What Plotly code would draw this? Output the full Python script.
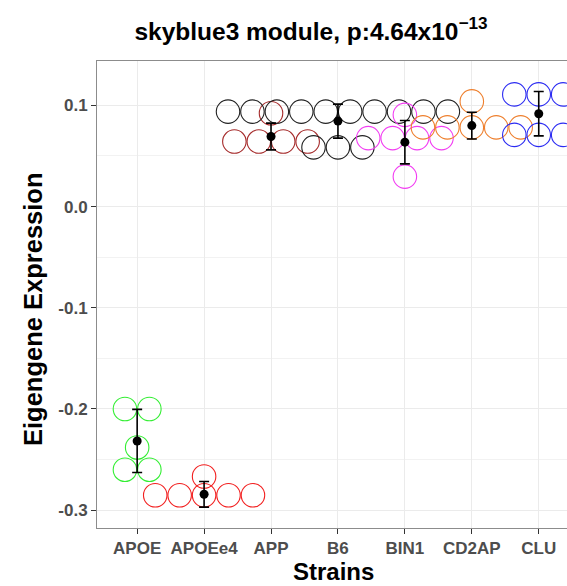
import plotly.graph_objects as go

# ---- data ----
strains = ["APOE", "APOEe4", "APP", "B6", "BIN1", "CD2AP", "CLU"]
colors = ["#33EE33", "#F21F1F", "#A52A2A", "#222222", "#F23CF2", "#EE7F2D", "#2B2BF2"]

apoe = [-0.200, -0.200, -0.238, -0.260, -0.260]
apoee4 = [-0.2852, -0.2852, -0.2852, -0.2852, -0.2852, -0.2667]
app = [0.0922, 0.0642, 0.0642, 0.0642, 0.0642]
b6 = [0.0938] * 10 + [0.0585] * 3
bin1 = [0.0906, 0.0676, 0.0676, 0.0676, 0.0676, 0.0296]
cd2ap = [0.1039, 0.0782, 0.0782, 0.0782, 0.0782, 0.0782]
clu = [0.1108, 0.1108, 0.1108, 0.0708, 0.0708, 0.0708]
values = [apoe, apoee4, app, b6, bin1, cd2ap, clu]

means = [-0.2316, -0.2843, 0.0692, 0.0844, 0.0636, 0.0800, 0.0917]
sds = [0.0312, 0.0127, 0.0132, 0.0168, 0.0214, 0.0132, 0.0219]

y_ticks = [-0.3, -0.2, -0.1, 0.0, 0.1]
y_tick_text = ["-0.3", "-0.2", "-0.1", "0.0", "0.1"]
y_minor = [-0.25, -0.15, -0.05, 0.05]

SPACING = 0.365  # beeswarm row spacing (data units, one marker width)
FONT = "Liberation Sans, Arial, sans-serif"

fig = go.Figure()

# beeswarm-like centered rows: equal values share a row
for i, (name, vals, col) in enumerate(zip(strains, values, colors)):
    pos = i + 1
    xs, ys = [], []
    rows = {}
    for v in vals:
        rows.setdefault(v, []).append(v)
    for v, row in rows.items():
        n = len(row)
        for k in range(n):
            xs.append(pos + (k - (n - 1) / 2) * SPACING)
            ys.append(v)
    fig.add_trace(go.Scatter(
        x=xs, y=ys, mode="markers",
        marker=dict(symbol="circle-open", size=23.5, color=col,
                    line=dict(width=1.1, color=col)),
        hoverinfo="skip", showlegend=False))

# mean +/- sd
fig.add_trace(go.Scatter(
    x=list(range(1, len(strains) + 1)), y=means, mode="markers",
    marker=dict(size=9, color="black"),
    error_y=dict(type="data", array=sds, visible=True, color="black",
                 thickness=1.6, width=5),
    showlegend=False))

fig.update_layout(
    width=567, height=586,
    margin=dict(l=97, r=0, t=61, b=58),
    plot_bgcolor="white", paper_bgcolor="white",
    showlegend=False,
    font=dict(family=FONT),
    title=dict(text="skyblue3 module, p:4.64x10<sup>\u221213</sup>",
               x=311 / 567, xref="container", xanchor="center",
               y=1 - 31 / 586, yref="container", yanchor="middle",
               font=dict(size=24.5, color="black", family=FONT, weight=700)),
)

fig.update_xaxes(
    range=[0.4, 0.4 + 470 / 66.93],
    tickmode="array", tickvals=list(range(1, len(strains) + 1)), ticktext=strains,
    showgrid=True, gridcolor="#EBEBEB", gridwidth=1.3,
    showline=True, linecolor="#8C8C8C", linewidth=1, mirror=True,
    ticks="outside", ticklen=5, tickwidth=1, tickcolor="#333333",
    tickfont=dict(size=17, color="#4D4D4D", family=FONT, weight=700),
    zeroline=False,
)
fig.update_yaxes(
    range=[-0.3176, 0.1438],
    tickmode="array", tickvals=y_ticks, ticktext=y_tick_text,
    showgrid=True, gridcolor="#EBEBEB", gridwidth=1.3,
    minor=dict(tickvals=y_minor, showgrid=True, gridcolor="#F2F2F2", gridwidth=0.8),
    showline=True, linecolor="#8C8C8C", linewidth=1, mirror=False,
    ticks="outside", ticklen=5, tickwidth=1, tickcolor="#333333",
    tickfont=dict(size=17, color="#4D4D4D", family=FONT, weight=700),
    zeroline=False,
)

# axis titles
fig.add_annotation(text="Strains", xref="paper", yref="paper",
                   x=(333.3 - 97) / 470, y=(528 - 571) / 467,
                   xanchor="center", yanchor="middle", showarrow=False,
                   font=dict(size=24, color="black", family=FONT, weight=700))
fig.add_annotation(text="Eigengene Expression", xref="paper", yref="paper",
                   x=(33 - 97) / 470, y=(528 - 309) / 467, textangle=-90,
                   xanchor="center", yanchor="middle", showarrow=False,
                   font=dict(size=25.5, color="black", family=FONT, weight=700))

fig.write_html("out.html")
